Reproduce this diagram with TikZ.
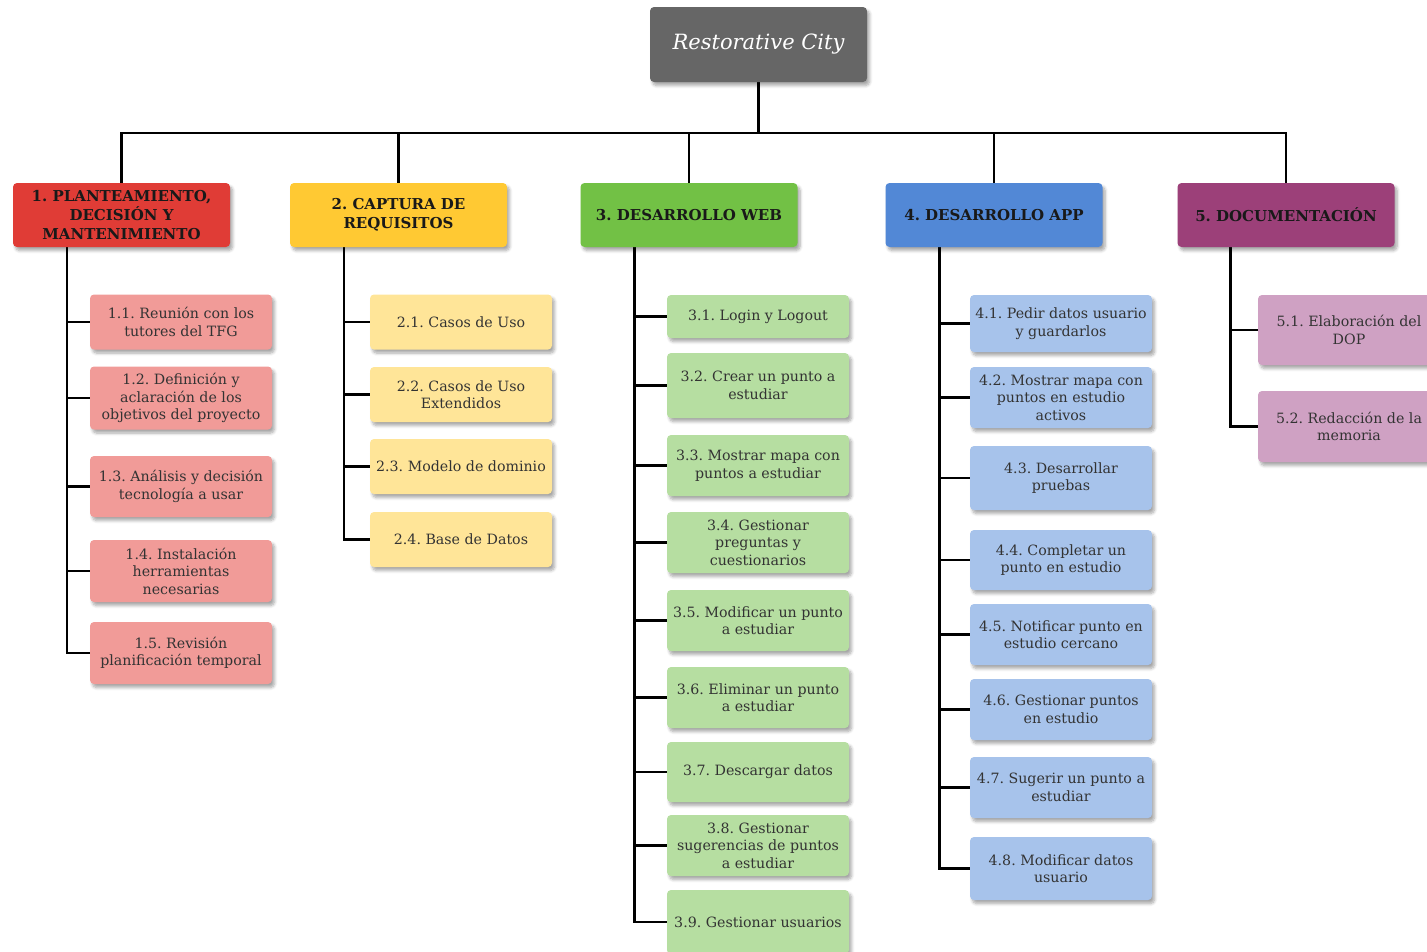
\documentclass[tikz,border=0pt]{standalone}
\usepackage{fontspec}
\setmainfont{DejaVu Serif}
\usetikzlibrary{shadows,shadows.blur,backgrounds,calc}
\frenchspacing

\definecolor{rootgray}{HTML}{666666}
\definecolor{catred}{HTML}{E03C36}
\definecolor{leafred}{HTML}{F19B98}
\definecolor{catyellow}{HTML}{FFC933}
\definecolor{leafyellow}{HTML}{FFE598}
\definecolor{catgreen}{HTML}{72C145}
\definecolor{leafgreen}{HTML}{B6DEA1}
\definecolor{catblue}{HTML}{5288D6}
\definecolor{leafblue}{HTML}{A7C3EB}
\definecolor{catpurple}{HTML}{9C4079}
\definecolor{leafpurple}{HTML}{CFA1C3}
\definecolor{inktext}{HTML}{333333}

\tikzset{
  box/.style={rounded corners=4pt, draw=none, align=center, inner sep=2pt,
    blur shadow={shadow xshift=2.5pt, shadow yshift=-3.5pt, shadow blur steps=6,
      shadow blur radius=3pt, shadow opacity=35}},
  rootbox/.style={box, fill=rootgray, minimum width=217pt, minimum height=75pt,
    text=white, font=\fontsize{21}{24}\selectfont\itshape},
  catbox/.style={box, minimum width=217pt, minimum height=64pt,
    font=\fontsize{15}{19}\selectfont\bfseries, text=black!90},
  leafbox/.style={box, minimum width=182pt,
    font=\fontsize{14.2}{17.5}\selectfont, text=inktext},
  link/.style={line width=2.6pt, black},
}

\begin{document}
\begin{tikzpicture}[x=1pt, y=-1pt]
\useasboundingbox (0,0) rectangle (1427,951);
\clip (0,0) rectangle (1427,951);

% root
\node[rootbox] (root) at (758.5,44.5) {Restorative City};

% main work packages
\node[catbox, fill=catred]    (c1) at (121.5,215) {1. PLANTEAMIENTO,\\DECISIÓN Y\\MANTENIMIENTO};
\node[catbox, fill=catyellow] (c2) at (398.5,215) {2. CAPTURA DE\\REQUISITOS};
\node[catbox, fill=catgreen]  (c3) at (689,215)   {3. DESARROLLO WEB};
\node[catbox, fill=catblue]   (c4) at (994,215)   {4. DESARROLLO APP};
\node[catbox, fill=catpurple] (c5) at (1286,215)  {5. DOCUMENTACIÓN};

% 1. planteamiento
\node[leafbox, fill=leafred, minimum height=55pt] (l11) at (181,322)   {1.1. Reunión con los\\tutores del TFG};
\node[leafbox, fill=leafred, minimum height=63pt] (l12) at (181,398)   {1.2. Definición y\\aclaración de los\\objetivos del proyecto};
\node[leafbox, fill=leafred, minimum height=61pt] (l13) at (181,486.5) {1.3. Análisis y decisión\\tecnología a usar};
\node[leafbox, fill=leafred, minimum height=62pt] (l14) at (181,571)   {1.4. Instalación\\herramientas\\necesarias};
\node[leafbox, fill=leafred, minimum height=62pt] (l15) at (181,653)   {1.5. Revisión\\planificación temporal};

% 2. captura de requisitos
\node[leafbox, fill=leafyellow, minimum height=55pt] (l21) at (461,322)   {2.1. Casos de Uso};
\node[leafbox, fill=leafyellow, minimum height=55pt] (l22) at (461,394.5) {2.2. Casos de Uso\\Extendidos};
\node[leafbox, fill=leafyellow, minimum height=55pt] (l23) at (461,466.5) {2.3. Modelo de dominio};
\node[leafbox, fill=leafyellow, minimum height=55pt] (l24) at (461,539.5) {2.4. Base de Datos};

% 3. desarrollo web
\node[leafbox, fill=leafgreen, minimum height=43pt] (l31) at (758,316.5) {3.1. Login y Logout};
\node[leafbox, fill=leafgreen, minimum height=65pt] (l32) at (758,385.5) {3.2. Crear un punto a\\estudiar};
\node[leafbox, fill=leafgreen, minimum height=61pt] (l33) at (758,465.5) {3.3. Mostrar mapa con\\puntos a estudiar};
\node[leafbox, fill=leafgreen, minimum height=61pt] (l34) at (758,542.5) {3.4. Gestionar\\preguntas y\\cuestionarios};
\node[leafbox, fill=leafgreen, minimum height=61pt] (l35) at (758,620.5) {3.5. Modificar un punto\\a estudiar};
\node[leafbox, fill=leafgreen, minimum height=61pt] (l36) at (758,697.5) {3.6. Eliminar un punto\\a estudiar};
\node[leafbox, fill=leafgreen, minimum height=60pt] (l37) at (758,772)   {3.7. Descargar datos};
\node[leafbox, fill=leafgreen, minimum height=61pt] (l38) at (758,845.5) {3.8. Gestionar\\sugerencias de puntos\\a estudiar};
\node[leafbox, fill=leafgreen, minimum height=64pt] (l39) at (758,922)   {3.9. Gestionar usuarios};

% 4. desarrollo app
\node[leafbox, fill=leafblue, minimum height=57pt] (l41) at (1061,323.5) {4.1. Pedir datos usuario\\y guardarlos};
\node[leafbox, fill=leafblue, minimum height=61pt] (l42) at (1061,397.5) {4.2. Mostrar mapa con\\puntos en estudio\\activos};
\node[leafbox, fill=leafblue, minimum height=64pt] (l43) at (1061,478)   {4.3. Desarrollar\\pruebas};
\node[leafbox, fill=leafblue, minimum height=60pt] (l44) at (1061,560)   {4.4. Completar un\\punto en estudio};
\node[leafbox, fill=leafblue, minimum height=61pt] (l45) at (1061,634.5) {4.5. Notificar punto en\\estudio cercano};
\node[leafbox, fill=leafblue, minimum height=61pt] (l46) at (1061,709.5) {4.6. Gestionar puntos\\en estudio};
\node[leafbox, fill=leafblue, minimum height=61pt] (l47) at (1061,787.5) {4.7. Sugerir un punto a\\estudiar};
\node[leafbox, fill=leafblue, minimum height=63pt] (l48) at (1061,868.5) {4.8. Modificar datos\\usuario};

% 5. documentacion
\node[leafbox, fill=leafpurple, minimum height=70pt] (l51) at (1349,330)   {5.1. Elaboración del\\DOP};
\node[leafbox, fill=leafpurple, minimum height=71pt] (l52) at (1349,426.5) {5.2. Redacción de la\\memoria};

% connectors
\begin{scope}[on background layer]
  \coordinate (bus) at (0,133);
  \draw[link] (root.south) -- (root.south |- bus);
  \draw[link] (c1.north) -- (c1.north |- bus) -- (c5.north |- bus) -- (c5.north);
  \foreach \c in {c2,c3,c4} \draw[link] (\c.north) -- (\c.north |- bus);

  \coordinate (t1) at ($(c1.south west)+(54,0)$);
  \coordinate (t2) at ($(c2.south west)+(54,0)$);
  \coordinate (t3) at ($(c3.south west)+(54,0)$);
  \coordinate (t4) at ($(c4.south west)+(54,0)$);
  \coordinate (t5) at ($(c5.south west)+(53,0)$);

  \foreach \l in {l11,l12,l13,l14,l15} \draw[link] (t1) |- (\l.west);
  \foreach \l in {l21,l22,l23,l24} \draw[link] (t2) |- (\l.west);
  \foreach \l in {l31,l32,l33,l34,l35,l36,l37,l38,l39} \draw[link] (t3) |- (\l.west);
  \foreach \l in {l41,l42,l43,l44,l45,l46,l47,l48} \draw[link] (t4) |- (\l.west);
  \foreach \l in {l51,l52} \draw[link] (t5) |- (\l.west);
\end{scope}
\end{tikzpicture}
\end{document}
